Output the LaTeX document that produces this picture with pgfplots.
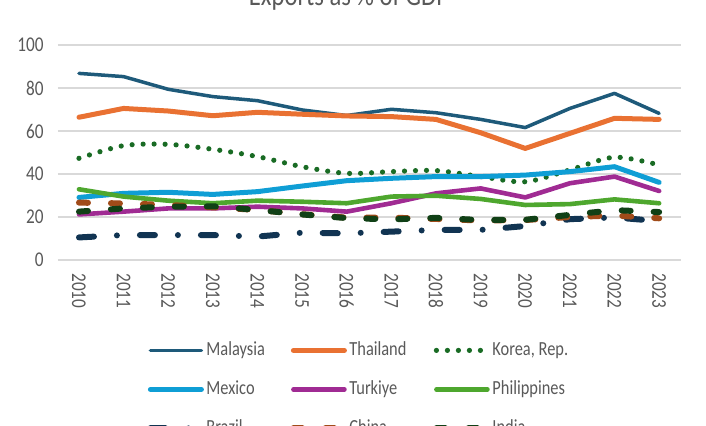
\documentclass[border=0pt]{standalone}
\usepackage{fontspec}
\setmainfont{Carlito}[FakeStretch=0.82]
\usepackage{pgfplots}
\pgfplotsset{compat=1.18}
\definecolor{cMal}{RGB}{30,90,122}
\definecolor{cTha}{RGB}{233,113,50}
\definecolor{cKor}{RGB}{25,107,36}
\definecolor{cMex}{RGB}{15,158,213}
\definecolor{cTur}{RGB}{160,43,147}
\definecolor{cPhi}{RGB}{78,167,46}
\definecolor{cBra}{RGB}{17,52,82}
\definecolor{cChi}{RGB}{160,75,25}
\definecolor{cInd}{RGB}{16,64,22}
\definecolor{txtgray}{RGB}{89,89,89}
\definecolor{gridgray}{RGB}{217,217,217}
\begin{document}
\begin{tikzpicture}
\useasboundingbox (-29pt,-82.5pt) rectangle (324pt,130pt);
\clip (-29pt,-82.5pt) rectangle (324pt,130pt);
\begin{axis}[
  at={(0pt,0pt)}, anchor=south west,
  scale only axis, width=311.5pt, height=107.5pt,
  xmin=2009.53, xmax=2023.49, ymin=0, ymax=100,
  xtick={2010,...,2023}, ytick={0,20,...,100},
  ymajorgrids, grid style={gridgray, line width=0.75pt},
  axis line style={draw=none}, major tick length=0pt,
  /pgf/number format/1000 sep={},
  /pgf/number format/assume math mode=true,
  tick label style={font=\fontsize{10.5}{12}\selectfont, text=txtgray},
  yticklabel style={anchor=east, inner sep=0pt, xshift=-7pt},
  xticklabel style={yshift=-6.5pt, rotate=-90, anchor=west, inner sep=0pt},
  legend columns=3,
  legend image code/.code={\draw[#1, line cap=round] (0pt,0pt) -- (25.5pt,0pt); \path[draw=none, fill=none] (0pt,-3pt) rectangle (28pt,3pt);},
  legend style={at={(0.1429,-0.3767)}, anchor=north west, draw=none, fill=none,
    inner xsep=0pt, inner ysep=0pt, row sep=10.5pt, column sep=0pt,
    cells={anchor=west},
    nodes={inner sep=0pt, text height=7pt, text depth=2pt, font=\fontsize{10}{12}\selectfont, text=txtgray}},
  every axis plot/.append style={line cap=round, line join=round},
]
\addplot[cMal, line width=1.75pt] coordinates {(2010,86.8)(2011,85.3)(2012,79.4)(2013,76.0)(2014,74.1)(2015,69.8)(2016,67.2)(2017,70.1)(2018,68.5)(2019,65.4)(2020,61.6)(2021,70.5)(2022,77.5)(2023,68.2)};
\addlegendentry{\makebox[42pt][l]{Malaysia}}
\addplot[cTha, line width=2.5pt] coordinates {(2010,66.4)(2011,70.5)(2012,69.3)(2013,67.1)(2014,68.7)(2015,67.8)(2016,67.0)(2017,66.7)(2018,65.4)(2019,59.2)(2020,51.9)(2021,58.9)(2022,65.9)(2023,65.4)};
\addlegendentry{\makebox[42pt][l]{Thailand}}
\addplot[cKor, line width=2.6pt, smooth, tension=0.5, dash pattern=on 0pt off 5.5pt] coordinates {(2010,47.3)(2011,53.2)(2012,53.8)(2013,51.5)(2014,48.1)(2015,43.4)(2016,40.3)(2017,41.1)(2018,41.6)(2019,38.8)(2020,36.4)(2021,41.9)(2022,47.8)(2023,44.2)};
\addlegendentry{\makebox[42pt][l]{Korea, Rep.}}
\addplot[cMex, line width=2.5pt] coordinates {(2010,29.1)(2011,31.0)(2012,31.5)(2013,30.5)(2014,31.8)(2015,34.4)(2016,36.9)(2017,38.0)(2018,38.8)(2019,38.8)(2020,39.5)(2021,41.1)(2022,43.4)(2023,36.1)};
\addlegendentry{\makebox[42pt][l]{Mexico}}
\addplot[cTur, line width=2.3pt] coordinates {(2010,21.2)(2011,22.5)(2012,24.0)(2013,24.0)(2014,24.8)(2015,24.0)(2016,22.5)(2017,26.4)(2018,31.0)(2019,33.3)(2020,29.1)(2021,35.7)(2022,38.8)(2023,32.1)};
\addlegendentry{\makebox[42pt][l]{Turkiye}}
\addplot[cPhi, line width=2.3pt] coordinates {(2010,32.9)(2011,29.5)(2012,27.6)(2013,26.4)(2014,27.6)(2015,27.1)(2016,26.4)(2017,29.5)(2018,29.9)(2019,28.4)(2020,25.6)(2021,26.0)(2022,28.2)(2023,26.4)};
\addlegendentry{\makebox[42pt][l]{Philippines}}
\addplot[cBra, line width=3pt, dash pattern=on 7.5pt off 11.5pt on 0pt off 11.5pt] coordinates {(2010,10.5)(2011,11.6)(2012,11.6)(2013,11.6)(2014,10.9)(2015,12.7)(2016,12.4)(2017,13.2)(2018,14.0)(2019,14.0)(2020,15.8)(2021,19.0)(2022,19.8)(2023,18.1)};
\addlegendentry{\makebox[42pt][l]{Brazil}}
\addplot[cChi, line width=3pt, dash pattern=on 4.5pt off 11.5pt] coordinates {(2010,26.7)(2011,26.3)(2012,25.6)(2013,24.5)(2014,23.3)(2015,21.3)(2016,19.7)(2017,19.7)(2018,19.1)(2019,18.4)(2020,18.6)(2021,20.0)(2022,20.7)(2023,19.4)};
\addlegendentry{\makebox[42pt][l]{China}}
\addplot[cInd, line width=3pt, dash pattern=on 4.5pt off 11.5pt] coordinates {(2010,22.5)(2011,24.0)(2012,24.8)(2013,25.0)(2014,23.3)(2015,21.2)(2016,19.5)(2017,18.9)(2018,19.6)(2019,18.6)(2020,18.7)(2021,21.0)(2022,23.2)(2023,22.3)};
\addlegendentry{\makebox[42pt][l]{India}}
\end{axis}
\node[anchor=base, text=txtgray, font=\fontsize{15}{18}\selectfont, inner sep=0pt] at (145.5pt,127.5pt) {Exports as \% of GDP};
\end{tikzpicture}
\end{document}
